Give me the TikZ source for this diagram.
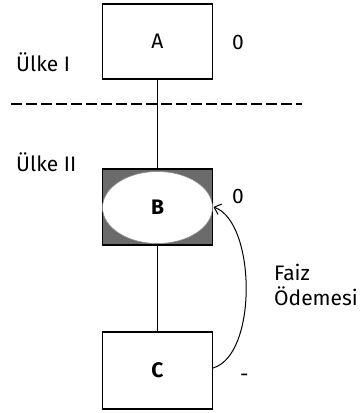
\documentclass[tikz,border=0pt]{standalone}
\usepackage{fontspec}
\setmainfont{Fira Sans}
\usetikzlibrary{arrows.meta,shapes.geometric}
\begin{document}
\begin{tikzpicture}[x=1pt,y=-1pt,
  every node/.style={font=\fontsize{21}{25}\selectfont},
  boxA/.style={draw, line width=1.6pt, minimum width=110pt, minimum height=75pt, inner sep=0pt},
  lbl/.style={anchor=west, inner sep=0pt},
  conn/.style={line width=1.1pt}]
\useasboundingbox (0,0) rectangle (363,413);
\node[boxA] (A) at (157.5,41.5) {A};
\node[boxA, fill=black!58, minimum height=76pt] (B) at (157.5,207) {};
\node[ellipse, draw=black!45, line width=0.6pt, fill=white, minimum width=110pt, minimum height=72pt, inner sep=0pt] (Be) at (157.5,207.5) {\bfseries B};
\node[boxA, minimum height=77pt] (C) at (157.5,370.5) {\bfseries C};
\node[lbl] (l0a) at (232,42) {0};
\node[lbl] (l1) at (16,62) {Ülke I};
\node[lbl] (l2) at (16,162) {Ülke II};
\node[lbl] (l0b) at (232,196) {0};
\node[lbl] (lm) at (240,378) {-};
\node[lbl, align=left] (lf) at (274,285) {Faiz\\Ödemesi};
\coordinate (d1) at (11,104);
\coordinate (d2) at (302,104);
\draw[line width=1.6pt, dash pattern=on 11pt off 4pt] (d1) -- (d2);
\draw[conn] (A.south) -- (B.north);
\draw[conn] (B.south) -- (C.north);
\coordinate (cs) at (213,368);
\coordinate (be) at (213.5,207);
\draw[line width=1pt, -{Straight Barb[length=6pt,width=11pt]}] (cs) .. controls (258,355) and (256,222) .. (be);
\end{tikzpicture}
\end{document}
